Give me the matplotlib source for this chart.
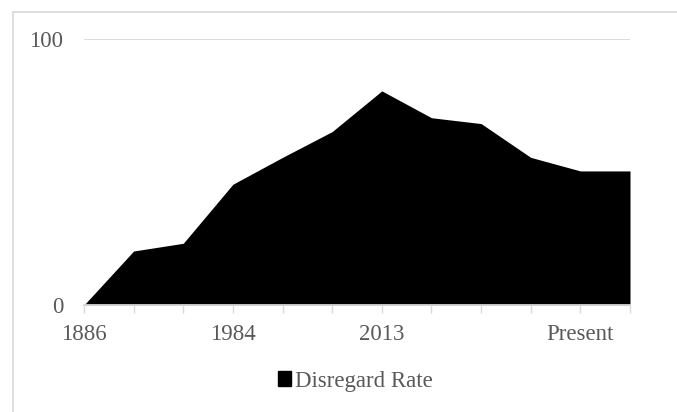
import matplotlib.pyplot as plt
from matplotlib.patches import Patch
from matplotlib.lines import Line2D

labels = ["1886", "", "", "1984", "", "", "2013", "", "", "", "Present", ""]
disregard_rate = [0, 20.3, 23.2, 45.4, 55.5, 65.2, 80.5, 70.4, 68.2, 55.5, 50.4, 50.4]

plt.rcParams['font.family'] = ['Liberation Serif', 'DejaVu Serif']
text_color = '#595959'
grid_color = '#d9d9d9'

fig = plt.figure(figsize=(6.77, 4.12), dpi=100)
ax = fig.add_axes([84 / 677, 1 - 305 / 412, (630 - 84) / 677, (305 - 39) / 412])

x = list(range(len(disregard_rate)))
ax.fill_between(x, disregard_rate, 0, color='black', linewidth=0)

ax.set_xlim(0, len(x) - 1)
ax.set_ylim(0, 100)
ax.set_yticks([0, 100])
ax.set_xticks(x)
ax.set_xticklabels(labels)
ax.axhline(100, color=grid_color, linewidth=1.3, zorder=0)

for side in ['top', 'right', 'left']:
    ax.spines[side].set_visible(False)
ax.spines['bottom'].set_color(grid_color)
ax.spines['bottom'].set_linewidth(1.3)

ax.tick_params(axis='y', length=0, pad=15, labelsize=16.5, labelcolor=text_color)
ax.tick_params(axis='x', length=6, width=1, color=grid_color, pad=8,
               labelsize=16.5, labelcolor=text_color)

handle = Patch(facecolor='black', edgecolor='black')
fig.legend([handle], ['Disregard Rate'], loc='center', bbox_to_anchor=(355 / 677, 1 - 381 / 412),
           frameon=False, fontsize=16.5, labelcolor=text_color, handlelength=0.6,
           handleheight=0.6, handletextpad=0.15)

# chart frame
fig.add_artist(Line2D([13 / 677, 13 / 677], [0, 1 - 12 / 412], color=grid_color,
                      linewidth=1.2, transform=fig.transFigure))
fig.add_artist(Line2D([13 / 677, 1], [1 - 12 / 412, 1 - 12 / 412], color=grid_color,
                      linewidth=1.2, transform=fig.transFigure))

fig.savefig('out.png', dpi=100)
